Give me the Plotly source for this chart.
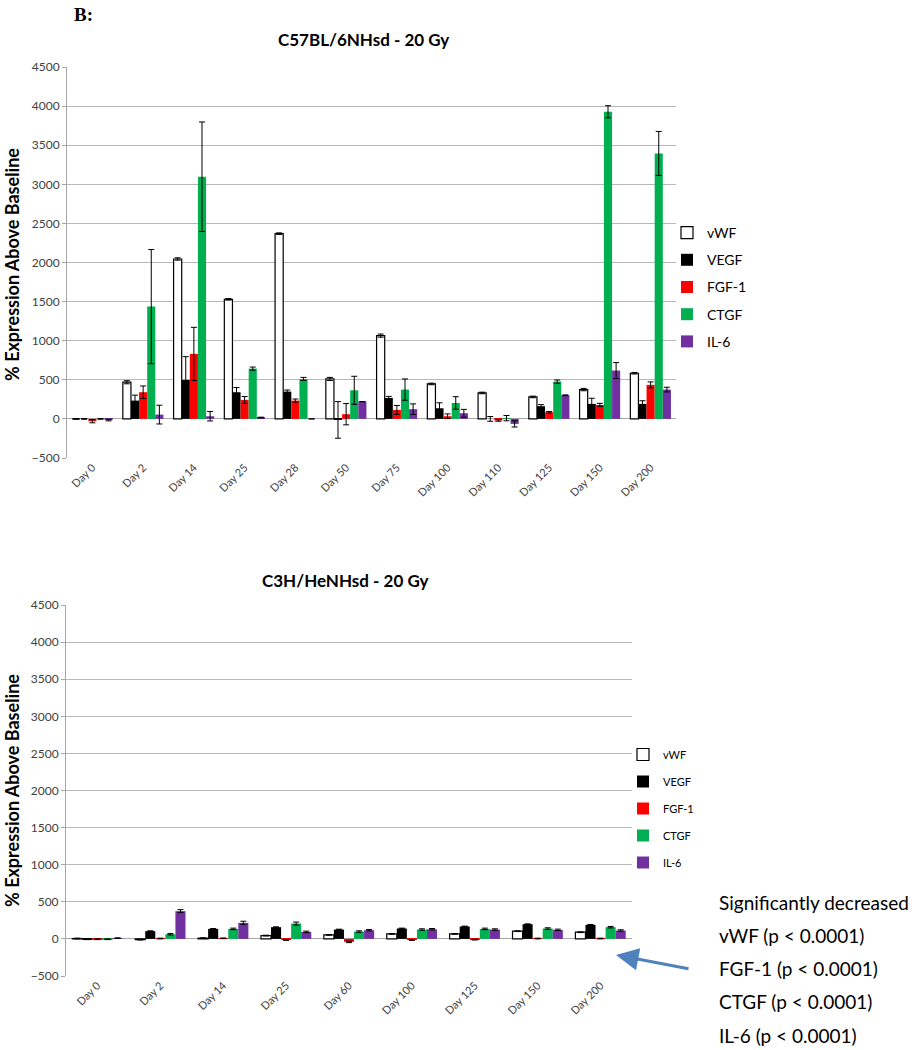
import plotly.graph_objects as go

# ---------------- data ----------------
series = ["vWF", "VEGF", "FGF-1", "CTGF", "IL-6"]
colors = ["#FFFFFF", "#000000", "#FF0000", "#00B050", "#7030A0"]

top_days = ["Day 0", "Day 2", "Day 14", "Day 25", "Day 28", "Day 50", "Day 75",
            "Day 100", "Day 110", "Day 125", "Day 150", "Day 200"]
top_vwf = [0, 469, 2045, 1529, 2369, 511, 1065, 447, 332, 281, 375, 584]
top_vegf = [0, 234, 498, 341, 349, -13, 268, 136, 0, 162, 192, 192]
top_fgf = [-30, 341, 831, 243, 234, 60, 115, 34, -20, 85, 179, 435]
top_ctgf = [0, 1436, 3097, 643, 511, 366, 375, 204, 10, 477, 3928, 3395]
top_il6 = [-15, 55, 34, 17, 0, 221, 124, 72, -64, 302, 618, 375]
top_vwf_err = [5, 20, 15, 10, 10, 20, 20, 10, 10, 10, 15, 10]
top_vegf_err = [5, 70, 298, 60, 20, 234, 20, 70, 30, 20, 72, 40]
top_fgf_err = [20, 80, 340, 43, 20, 136, 57, 30, 10, 10, 20, 38]
top_ctgf_err = [5, 730, 700, 20, 20, 179, 136, 80, 34, 20, 77, 281]
top_il6_err = [10, 120, 60, 5, 0, 0, 68, 50, 40, 5, 102, 30]

bot_days = ["Day 0", "Day 2", "Day 14", "Day 25", "Day 60", "Day 100", "Day 125",
            "Day 150", "Day 200"]
bot_vwf = [5, -10, 10, 45, 54, 67, 67, 104, 90]
bot_vegf = [-5, 104, 135, 158, 126, 140, 167, 198, 189]
bot_fgf = [-5, 5, 8, -15, -40, -15, -10, 5, 5]
bot_ctgf = [-5, 63, 135, 207, 99, 126, 135, 140, 158]
bot_il6 = [10, 374, 216, 95, 117, 130, 126, 122, 113]
bot_vwf_err = [5, 5, 5, 5, 5, 5, 5, 5, 5]
bot_vegf_err = [5, 5, 5, 5, 5, 5, 5, 5, 5]
bot_fgf_err = [5, 5, 5, 5, 10, 5, 5, 5, 5]
bot_ctgf_err = [5, 10, 10, 20, 10, 10, 10, 10, 10]
bot_il6_err = [5, 20, 22, 10, 10, 10, 10, 10, 10]

note_lines = ["Significantly decreased", "vWF (p < 0.0001)", "FGF-1 (p < 0.0001)",
              "CTGF (p < 0.0001)", "IL-6 (p < 0.0001)"]

FONT = "Lato, 'Open Sans', sans-serif"
W, H = 915, 1050

fig = go.Figure()

def add_group(days, vals, errs, xaxis, yaxis, legend):
    for i, (name, col) in enumerate(zip(series, colors)):
        fig.add_trace(go.Bar(
            x=days, y=vals[i], name=name,
            marker=dict(color=col,
                        line=dict(color="#000000", width=1.2 if i == 0 else 0)),
            error_y=dict(type="data", array=errs[i], visible=True,
                         color="#000000", thickness=1, width=3),
            xaxis=xaxis, yaxis=yaxis, legend=legend, legendgroup=legend + name,
        ))

add_group(top_days, [top_vwf, top_vegf, top_fgf, top_ctgf, top_il6],
          [top_vwf_err, top_vegf_err, top_fgf_err, top_ctgf_err, top_il6_err],
          "x", "y", "legend")
add_group(bot_days, [bot_vwf, bot_vegf, bot_fgf, bot_ctgf, bot_il6],
          [bot_vwf_err, bot_vegf_err, bot_fgf_err, bot_ctgf_err, bot_il6_err],
          "x2", "y2", "legend2")

def px_x(p):
    return p / W

def px_y(p):
    return 1 - p / H

yax = dict(range=[-500, 4500], dtick=500, showgrid=True, gridcolor="#B8B8B8",
           gridwidth=1, zeroline=True, zerolinecolor="#A6A6A6", zerolinewidth=1,
           showline=True, linecolor="#A6A6A6", linewidth=1, ticks="outside",
           ticklen=4, tickcolor="#A6A6A6", automargin=False,
           tickfont=dict(family=FONT, size=12, color="#404040"), fixedrange=True)
xax = dict(showgrid=False, showline=False, zeroline=False, tickangle=-45,
           automargin=False,
           tickfont=dict(family=FONT, size=11, color="#404040"), ticks="")

fig.update_layout(
    width=W, height=H, margin=dict(l=0, r=0, t=0, b=0, autoexpand=False),
    plot_bgcolor="white", paper_bgcolor="white",
    barmode="group", bargap=0.2, bargroupgap=0.0,
    font=dict(family=FONT, color="#000000"),
    xaxis=dict(domain=[px_x(67), px_x(676)], anchor="y", **xax),
    yaxis=dict(domain=[px_y(458), px_y(67)], anchor="x", **yax),
    xaxis2=dict(domain=[px_x(66), px_x(632)], anchor="y2", **xax),
    yaxis2=dict(domain=[px_y(976), px_y(605)], anchor="x2", **yax),
    legend=dict(x=px_x(667), y=px_y(217), xanchor="left", yanchor="top",
                font=dict(family=FONT, size=14, color="#000000"),
                tracegroupgap=6, itemwidth=30, bgcolor="rgba(0,0,0,0)"),
    legend2=dict(x=px_x(623), y=px_y(740), xanchor="left", yanchor="top",
                 font=dict(family=FONT, size=11, color="#000000"),
                 tracegroupgap=8, itemwidth=30, bgcolor="rgba(0,0,0,0)"),
    showlegend=True,
)

ann = []
ann.append(dict(text="<b>B:</b>", x=px_x(72), y=px_y(15), xref="paper", yref="paper",
                showarrow=False, xanchor="left", yanchor="middle",
                font=dict(family="Liberation Serif, serif", size=19)))
ann.append(dict(text="<b>C57BL/6NHsd - 20 Gy</b>", x=px_x(363), y=px_y(40),
                xref="paper", yref="paper", showarrow=False, xanchor="center",
                yanchor="middle", font=dict(family=FONT, size=17)))
ann.append(dict(text="<b>C3H/HeNHsd - 20 Gy</b>", x=px_x(345), y=px_y(580),
                xref="paper", yref="paper", showarrow=False, xanchor="center",
                yanchor="middle", font=dict(family=FONT, size=17)))
for yc in [265, 791]:
    ann.append(dict(text="<b>% Expression Above Baseline</b>", x=px_x(12), y=px_y(yc),
                    xref="paper", yref="paper", showarrow=False, textangle=-90,
                    xanchor="center", yanchor="middle", font=dict(family=FONT, size=18)))
for i, line in enumerate(note_lines):
    ann.append(dict(text=line, x=px_x(717), y=px_y(902 + i * 33.3), xref="paper",
                    yref="paper", showarrow=False, xanchor="left", yanchor="middle",
                    font=dict(family=FONT, size=19, color="#000000")))
ann.append(dict(text="", x=px_x(616), y=px_y(955), xref="paper", yref="paper",
                ax=74, ay=14, axref="pixel", ayref="pixel",
                showarrow=True, arrowhead=2, arrowsize=1.5, arrowwidth=3,
                arrowcolor="#4F81BD"))
fig.update_layout(annotations=ann)

fig.write_html("out.html", config={"displayModeBar": False},
               post_script="document.body.style.margin='0';document.body.style.overflow='hidden';")
